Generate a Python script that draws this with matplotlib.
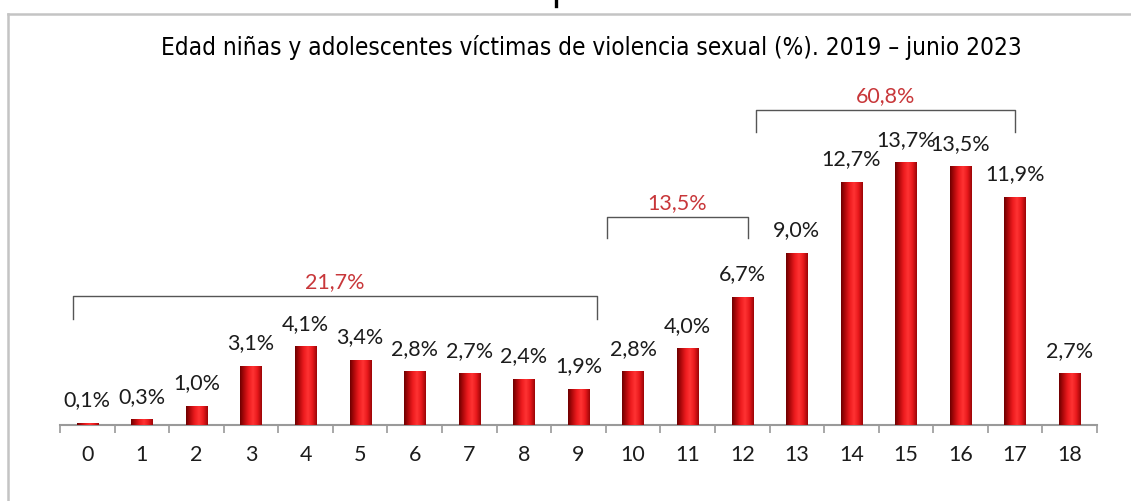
import numpy as np
import matplotlib
matplotlib.use("Agg")
import matplotlib.pyplot as plt
from matplotlib.colors import LinearSegmentedColormap
from matplotlib.lines import Line2D

# data
edades = [str(i) for i in range(19)]
porcentajes = [0.1, 0.3, 1.0, 3.1, 4.1, 3.4, 2.8, 2.7, 2.4, 1.9,
               2.8, 4.0, 6.7, 9.0, 12.7, 13.7, 13.5, 11.9, 2.7]
etiquetas = ["0,1%", "0,3%", "1,0%", "3,1%", "4,1%", "3,4%", "2,8%", "2,7%", "2,4%", "1,9%",
             "2,8%", "4,0%", "6,7%", "9,0%", "12,7%", "13,7%", "13,5%", "11,9%", "2,7%"]
grupos = ["21,7%", "13,5%", "60,8%"]
titulo = "Edad niñas y adolescentes víctimas de violencia sexual (%). 2019 – junio 2023"

W, H = 1131, 502
fig = plt.figure(figsize=(W / 100, H / 100), dpi=100)
fig.patch.set_facecolor("white")

# outer frame (top and left edges visible)
frame_c = "#c4c4c4"
fig.add_artist(Line2D([8 / W, 1.0], [1 - 15 / H, 1 - 15 / H], color=frame_c, lw=1.8))
fig.add_artist(Line2D([8 / W, 8 / W], [0, 1 - 15 / H], color=frame_c, lw=1.8))
# stub of the cut-off heading above the frame
fig.add_artist(Line2D([556 / W, 556 / W], [1.0, 1 - 7 / H], color="black", lw=2.4))

ax = fig.add_axes([60 / W, (H - 426) / H, 1037 / W, 366 / H])
x = np.arange(len(porcentajes))
ax.set_xlim(-0.5, len(porcentajes) - 0.5)
ax.set_ylim(0, 19.1)

bw = 0.39
cmap = LinearSegmentedColormap.from_list(
    "cyl", ["#6e0000", "#b50a0c", "#ee1c1f", "#ff3333", "#e8191c", "#9c0507"])
grad = np.linspace(0, 1, 64).reshape(1, -1)
bars = ax.bar(x, porcentajes, width=bw, color="#e01a1d", zorder=2)
for b in bars:
    x0, w, h = b.get_x(), b.get_width(), b.get_height()
    im = ax.imshow(grad, cmap=cmap, extent=[x0, x0 + w, 0, h], aspect="auto",
                   interpolation="bilinear", zorder=3)
    im.set_clip_path(b)

for xi, v, t in zip(x, porcentajes, etiquetas):
    ax.annotate(t, (xi, v), xytext=(0, 17), textcoords="offset points",
                ha="center", va="center", fontsize=15.5, family="Lato", color="#1c1c1c")

for s in ["top", "right", "left"]:
    ax.spines[s].set_visible(False)
ax.spines["bottom"].set_color("#9a9a9a")
ax.spines["bottom"].set_linewidth(1.5)
ax.set_yticks([])
ax.set_xticks(x)
ax.set_xticklabels(edades, fontsize=15.5, family="Lato", color="#1c1c1c")
ax.tick_params(axis="x", which="major", length=0, pad=14)
ax.set_xticks(np.arange(-0.5, len(porcentajes), 1), minor=True)
ax.tick_params(axis="x", which="minor", length=6, width=1.2, color="#9a9a9a", direction="out")

# group brackets
brackets = [(-0.26, 9.34, 6.74, 5.54), (9.52, 12.1, 10.86, 9.76), (12.25, 17.0, 16.45, 15.3)]
for (xa, xb, top, bot), lab in zip(brackets, grupos):
    ax.plot([xa, xa, xb, xb], [bot, top, top, bot], color="#555555", lw=1.0,
            clip_on=False, zorder=4)
    ax.text((xa + xb) / 2, top + 0.78, lab, ha="center", va="center", fontsize=15.5,
            family="Lato", color="#c8373a")

fig.text(591 / W, 1 - 47 / H, titulo, ha="center", va="center", fontsize=17.5,
         color="black", family="DejaVu Sans", fontstretch="condensed")

fig.savefig("out.png", dpi=100)
